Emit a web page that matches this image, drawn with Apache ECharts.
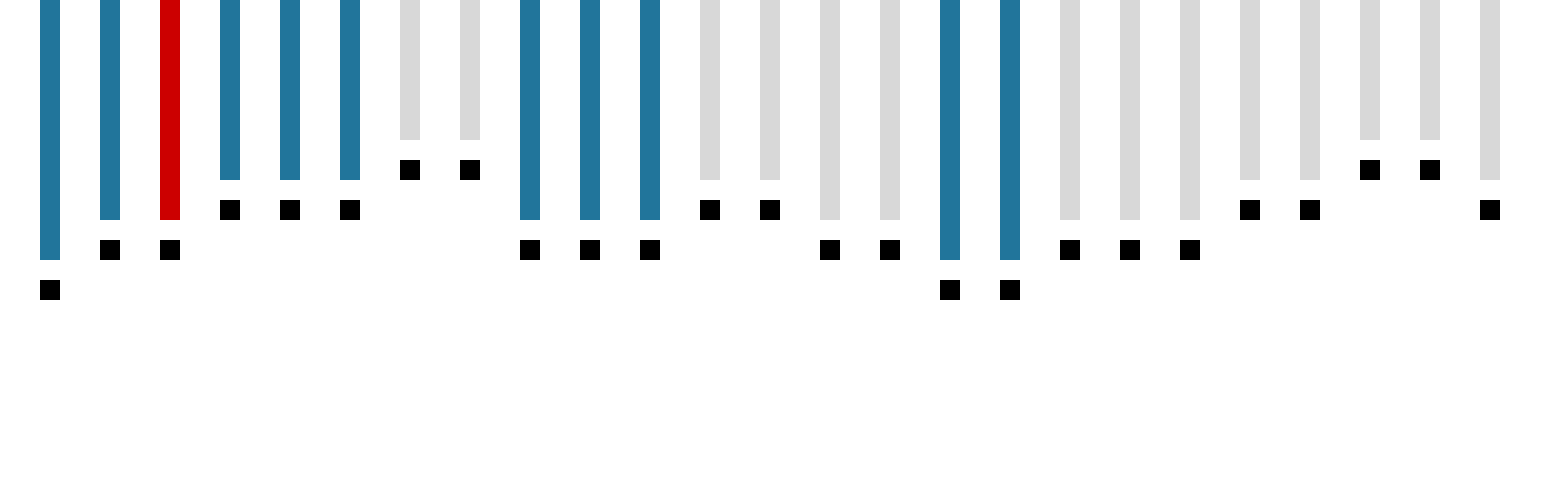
<!DOCTYPE html>
<html>
<head>
<meta charset="utf-8">
<script src="https://cdn.jsdelivr.net/npm/echarts@6/dist/echarts.min.js"></script>
<style>html,body{margin:0;padding:0;background:#fff}#c{width:1544px;height:500px}</style>
</head>
<body>
<div id="c"></div>
<script>
const categories = Array.from({length:25}, (_, i) => String(i + 1));
const barValues = [13, 11, 11, 9, 9, 9, 7, 7, 11, 11, 11, 9, 9, 11, 11, 13, 13, 11, 11, 11, 9, 9, 7, 7, 9];
const markerValues = [14.5, 12.5, 12.5, 10.5, 10.5, 10.5, 8.5, 8.5, 12.5, 12.5, 12.5, 10.5, 10.5, 12.5, 12.5, 14.5, 14.5, 12.5, 12.5, 12.5, 10.5, 10.5, 8.5, 8.5, 10.5];
const barGroups = ['blue','blue','red','blue','blue','blue','gray','gray','blue','blue','blue','gray','gray','gray','gray','blue','blue','gray','gray','gray','gray','gray','gray','gray','gray'];
const groupColors = {blue:'#21759b', red:'#cc0000', gray:'#d8d8d8'};

const chart = echarts.init(document.getElementById('c'), null, {renderer:'canvas'});
chart.setOption({
  animation: false,
  grid: {left: 20, width: 1500, top: 0, height: 500, containLabel: false},
  xAxis: {type:'category', data: categories, show: false, boundaryGap: true},
  yAxis: {type:'value', inverse: true, min: 0, max: 25, show: false},
  series: [
    {
      type: 'bar',
      barWidth: 20,
      data: barValues.map((v, i) => ({value: v, itemStyle: {color: groupColors[barGroups[i]]}}))
    },
    {
      type: 'scatter',
      symbol: 'rect',
      symbolSize: 20,
      itemStyle: {color: '#000000', opacity: 1},
      data: markerValues
    }
  ]
});
</script>
</body>
</html>
